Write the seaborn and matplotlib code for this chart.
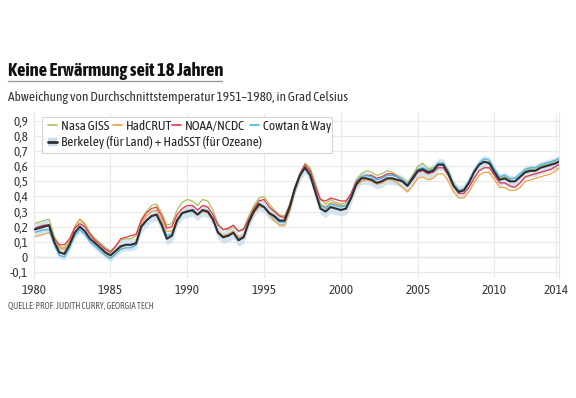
# %%
import numpy as np
import pandas as pd
import matplotlib.pyplot as plt
import matplotlib.font_manager as fm
from matplotlib.lines import Line2D
from matplotlib.patches import Rectangle
import seaborn as sns

#%% data (Abweichung zu 1951-1980, alle 4 Monate abgelesen)
years = np.round(1980 + np.arange(104) / 3, 3)

nasa_giss = [0.22, 0.23, 0.24, 0.25, 0.14, 0.07, 0.06, 0.11, 0.20, 0.25, 0.22, 0.16, 0.12, 0.09, 0.06, 0.04,
             0.07, 0.11, 0.12, 0.12, 0.14, 0.25, 0.30, 0.34, 0.35, 0.29, 0.21, 0.22, 0.31, 0.36, 0.38, 0.37,
             0.34, 0.38, 0.37, 0.31, 0.22, 0.18, 0.18, 0.20, 0.17, 0.19, 0.27, 0.34, 0.39, 0.40, 0.35, 0.31,
             0.28, 0.27, 0.35, 0.46, 0.55, 0.62, 0.59, 0.49, 0.38, 0.35, 0.38, 0.36, 0.35, 0.36, 0.42, 0.51,
             0.55, 0.57, 0.56, 0.54, 0.55, 0.57, 0.56, 0.54, 0.52, 0.49, 0.54, 0.60, 0.62, 0.58, 0.59, 0.62,
             0.62, 0.57, 0.49, 0.44, 0.44, 0.49, 0.56, 0.61, 0.63, 0.63, 0.57, 0.52, 0.53, 0.51, 0.50, 0.53,
             0.57, 0.58, 0.58, 0.60, 0.61, 0.62, 0.64, 0.66]

hadcrut = [0.13, 0.14, 0.15, 0.16, 0.10, 0.06, 0.05, 0.10, 0.19, 0.25, 0.21, 0.15, 0.10, 0.06, 0.02, -0.01,
           0.02, 0.06, 0.08, 0.08, 0.10, 0.22, 0.27, 0.30, 0.31, 0.24, 0.17, 0.17, 0.25, 0.29, 0.31, 0.30,
           0.28, 0.30, 0.29, 0.24, 0.17, 0.14, 0.15, 0.17, 0.13, 0.14, 0.22, 0.29, 0.33, 0.33, 0.28, 0.24,
           0.21, 0.21, 0.30, 0.43, 0.53, 0.60, 0.56, 0.45, 0.35, 0.33, 0.36, 0.35, 0.34, 0.34, 0.39, 0.47,
           0.50, 0.51, 0.50, 0.48, 0.49, 0.51, 0.51, 0.49, 0.46, 0.43, 0.47, 0.52, 0.53, 0.51, 0.52, 0.55,
           0.55, 0.50, 0.43, 0.39, 0.39, 0.43, 0.49, 0.54, 0.56, 0.56, 0.51, 0.46, 0.46, 0.44, 0.44, 0.46,
           0.50, 0.51, 0.52, 0.53, 0.54, 0.55, 0.57, 0.60]

noaa_ncdc = [0.19, 0.20, 0.21, 0.21, 0.12, 0.08, 0.08, 0.12, 0.19, 0.22, 0.20, 0.15, 0.11, 0.08, 0.05, 0.03,
             0.07, 0.12, 0.13, 0.14, 0.15, 0.24, 0.29, 0.32, 0.33, 0.27, 0.19, 0.20, 0.28, 0.32, 0.34, 0.34,
             0.31, 0.34, 0.33, 0.28, 0.21, 0.18, 0.19, 0.21, 0.17, 0.18, 0.25, 0.32, 0.37, 0.38, 0.33, 0.30,
             0.27, 0.26, 0.34, 0.46, 0.55, 0.61, 0.57, 0.47, 0.38, 0.37, 0.39, 0.38, 0.37, 0.37, 0.42, 0.50,
             0.53, 0.54, 0.54, 0.52, 0.53, 0.55, 0.55, 0.53, 0.50, 0.47, 0.51, 0.56, 0.57, 0.55, 0.56, 0.59,
             0.59, 0.54, 0.47, 0.42, 0.42, 0.46, 0.52, 0.57, 0.59, 0.59, 0.54, 0.49, 0.49, 0.47, 0.46, 0.49,
             0.53, 0.54, 0.55, 0.56, 0.57, 0.58, 0.60, 0.62]

cowtan_way = [0.16, 0.17, 0.18, 0.18, 0.08, 0.01, 0.00, 0.06, 0.14, 0.18, 0.15, 0.10, 0.07, 0.04, 0.01, -0.01,
              0.02, 0.05, 0.06, 0.06, 0.08, 0.19, 0.24, 0.27, 0.28, 0.22, 0.14, 0.15, 0.24, 0.29, 0.30, 0.30,
              0.28, 0.31, 0.30, 0.25, 0.16, 0.13, 0.14, 0.16, 0.12, 0.13, 0.22, 0.30, 0.34, 0.33, 0.29, 0.26,
              0.23, 0.23, 0.32, 0.44, 0.54, 0.59, 0.55, 0.44, 0.34, 0.32, 0.35, 0.34, 0.33, 0.34, 0.40, 0.49,
              0.53, 0.54, 0.53, 0.51, 0.52, 0.54, 0.54, 0.53, 0.51, 0.48, 0.53, 0.58, 0.59, 0.57, 0.58, 0.62,
              0.62, 0.56, 0.48, 0.44, 0.45, 0.50, 0.57, 0.62, 0.65, 0.64, 0.58, 0.53, 0.54, 0.52, 0.52, 0.55,
              0.58, 0.59, 0.59, 0.61, 0.62, 0.63, 0.64, 0.66]

berkeley = [0.18, 0.19, 0.20, 0.21, 0.10, 0.03, 0.02, 0.08, 0.16, 0.20, 0.17, 0.12, 0.09, 0.06, 0.03, 0.01,
            0.04, 0.07, 0.08, 0.08, 0.09, 0.20, 0.24, 0.27, 0.28, 0.21, 0.12, 0.14, 0.24, 0.29, 0.30, 0.31,
            0.28, 0.31, 0.30, 0.25, 0.16, 0.13, 0.14, 0.16, 0.11, 0.13, 0.23, 0.30, 0.35, 0.33, 0.29, 0.27,
            0.24, 0.24, 0.33, 0.45, 0.54, 0.59, 0.54, 0.43, 0.32, 0.30, 0.33, 0.32, 0.31, 0.32, 0.39, 0.48,
            0.52, 0.52, 0.51, 0.49, 0.50, 0.52, 0.52, 0.51, 0.50, 0.47, 0.52, 0.57, 0.58, 0.56, 0.57, 0.61,
            0.61, 0.55, 0.47, 0.43, 0.44, 0.49, 0.56, 0.61, 0.63, 0.62, 0.56, 0.51, 0.52, 0.50, 0.50, 0.53,
            0.56, 0.57, 0.57, 0.59, 0.60, 0.61, 0.62, 0.64]
berkeley_unc = 0.04  # half width of the blue uncertainty band

series_names = ["Nasa GISS", "HadCRUT", "NOAA/NCDC", "Cowtan & Way"]
series_values = [nasa_giss, hadcrut, noaa_ncdc, cowtan_way]
berkeley_name = "Berkeley (für Land) + HadSST (für Ozeane)"

x_ticks = [1980, 1985, 1990, 1995, 2000, 2005, 2010, 2014]
y_ticks = [-0.1, 0, 0.1, 0.2, 0.3, 0.4, 0.5, 0.6, 0.7, 0.8, 0.9]

colors = {"Nasa GISS": "#a9c25d", "HadCRUT": "#f0a040", "NOAA/NCDC": "#e5344f",
          "Cowtan & Way": "#45b4e3"}
black = "#2f2f33"
band_color = "#c9ddec"

#%% long table for seaborn
long_df = pd.concat(
    [pd.DataFrame({"Jahr": years, "Wert": vals, "Reihe": name})
     for name, vals in zip(series_names, series_values)],
    ignore_index=True,
)
berk_df = pd.DataFrame({"Jahr": years, "Wert": berkeley})

#%% fonts: look for a condensed face, else plain Roboto
sns.set_theme(style="white")
plt.rcParams["font.family"] = ["Roboto", "DejaVu Sans"]

font_files = sorted({f.fname for f in fm.fontManager.ttflist})


def stem(path):
    return path.split("/")[-1].rsplit(".", 1)[0]


def no_variant(s):
    return not any(k in s for k in ["Italic", "Oblique", "Semi", "Extra", "Ultra"])


reg_hits = [p for p in font_files
            if stem(p).endswith("Condensed-Regular") and no_variant(stem(p))]
bold_hits = []
if reg_hits:
    prefix = stem(reg_hits[0])[:-len("Regular")]
    bold_hits = [p for p in font_files if stem(p) == prefix + "Bold"]
if not bold_hits:
    bold_hits = [p for p in font_files
                 if (stem(p).endswith("Condensed-Bold") or stem(p).endswith("CondensedBold"))
                 and no_variant(stem(p))]
if not bold_hits:
    bold_hits = [f.fname for f in fm.fontManager.ttflist
                 if f.stretch == "condensed" and f.weight in (700, "bold")
                 and f.style == "normal"]

font_reg = fm.FontProperties(fname=reg_hits[0]) if reg_hits else fm.FontProperties(family="Roboto")
font_bold = (fm.FontProperties(fname=sorted(bold_hits)[0]) if bold_hits
             else fm.FontProperties(family="Roboto", weight="bold"))

W, H = 576, 398
fig = plt.figure(figsize=(W / 100, H / 100), dpi=100)
# axes box in pixels: left 33.7, right 559, top 113.4, bottom 278
ax = fig.add_axes([33.7 / W, 1 - 278 / H, (559 - 33.7) / W, (278 - 113.4) / H])

# uncertainty band + lines
ax.fill_between(years, np.array(berkeley) - berkeley_unc, np.array(berkeley) + berkeley_unc,
                color=band_color, alpha=0.8, lw=0, zorder=1)
sns.lineplot(data=long_df, x="Jahr", y="Wert", hue="Reihe", hue_order=series_names,
             palette=colors, linewidth=0.9, legend=False, ax=ax, zorder=2)
sns.lineplot(data=berk_df, x="Jahr", y="Wert", color=black, linewidth=1.5, ax=ax, zorder=3)

ax.set_xlim(1980, 2014.2)
ax.set_ylim(-0.14, 0.95)
ax.set_xlabel("")
ax.set_ylabel("")

ax.set_xticks(x_ticks)
ax.set_xticklabels([str(t) for t in x_ticks])
ax.set_yticks(y_ticks)
ax.set_yticklabels([("%g" % t).replace(".", ",") for t in y_ticks])
ax.tick_params(axis="both", length=0, labelcolor="#3a3a3a")
ax.tick_params(axis="x", pad=4)
ax.tick_params(axis="y", pad=4)
for lab in ax.get_xticklabels() + ax.get_yticklabels():
    lab.set_fontproperties(font_reg)
    lab.set_fontsize(9.5)
for lab in ax.get_yticklabels():
    lab.set_horizontalalignment("right")

# grid
ax.grid(True, color="#e9e9e9", linewidth=0.8)
ax.axhline(0, color="#cfcfcf", linewidth=1.0, zorder=0.5)
for side in ["top", "bottom"]:
    ax.spines[side].set_visible(False)
for side in ["left", "right"]:
    ax.spines[side].set_color("#e6e6e6")
    ax.spines[side].set_linewidth(0.8)

# legend box
ax.add_patch(Rectangle((0.0152, 0.761), 0.552, 0.219, transform=ax.transAxes,
                       facecolor="white", edgecolor="#d5d5d5", linewidth=0.8, zorder=4))
leg_font = font_reg.copy()
leg_font.set_size(9.5)

# one small legend per entry so each sits where it does in the original
entry_px = [48, 113, 172, 250]
for name, px in zip(series_names, entry_px):
    leg = ax.legend([Line2D([], [], color=colors[name], lw=1.2)], [name], loc="upper left",
                    bbox_to_anchor=((px - 33.7) / 525.3, 0.96), frameon=False,
                    handlelength=0.7, handletextpad=0.3, prop=leg_font,
                    borderpad=0, borderaxespad=0)
    leg.set_zorder(5)
    ax.add_artist(leg)
berk_handle = (Line2D([], [], color=band_color, lw=6, solid_capstyle="butt"),
               Line2D([], [], color=black, lw=2))
leg2 = ax.legend([berk_handle], [berkeley_name], loc="upper left",
                 bbox_to_anchor=((48 - 33.7) / 525.3, 0.86), frameon=False,
                 handlelength=0.7, handletextpad=0.3, prop=leg_font,
                 borderpad=0, borderaxespad=0)
leg2.set_zorder(5)

# texts
title = fig.text(8 / W, 1 - 76 / H, "Keine Erwärmung seit 18 Jahren",
                 fontproperties=font_bold, fontsize=12, color="#111111",
                 va="baseline", ha="left")
subtitle = fig.text(8 / W, 1 - 101.5 / H,
                    "Abweichung von Durchschnittstemperatur 1951–1980, in Grad Celsius",
                    fontproperties=font_reg, fontsize=9, color="#333333",
                    va="baseline", ha="left")
source = fig.text(8 / W, 1 - 308.5 / H, "QUELLE: PROF. JUDITH CURRY, GEORGIA TECH",
                  fontproperties=font_reg, fontsize=5.5, color="#555555",
                  va="baseline", ha="left")

# scale texts to the widths seen in the original
renderer = fig.canvas.get_renderer()
for txt, target in [(title, 214), (subtitle, 340), (source, 146)]:
    w = txt.get_window_extent(renderer).width
    txt.set_fontsize(txt.get_fontsize() * target / w)

# underline under title
fig.add_artist(Line2D([8 / W, 222 / W], [1 - 81 / H, 1 - 81 / H], color="#9a9a9a", lw=1.0))

fig.savefig("out.png", dpi=100)
